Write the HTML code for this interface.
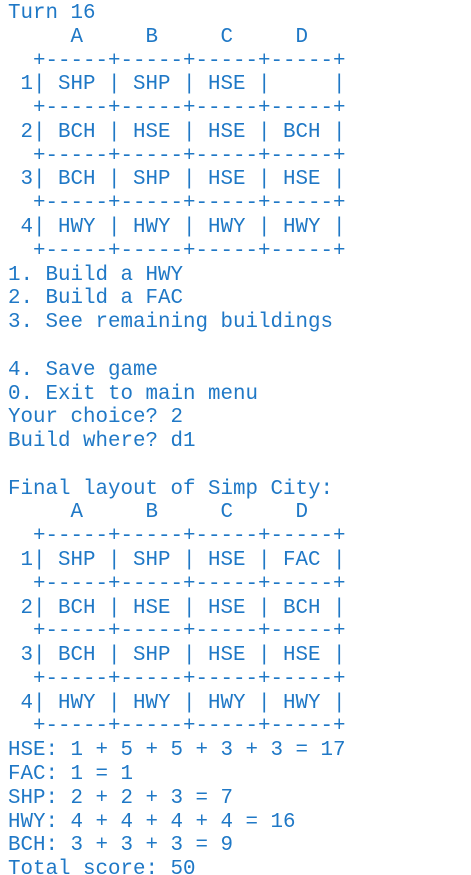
<!DOCTYPE html>
<html><head><meta charset="utf-8"><style>
html,body{margin:0;padding:0;background:#fff;width:471px;height:875px;overflow:hidden}
pre{margin:0;padding:0 0 0 8px;font-family:"Liberation Mono","Courier New",monospace;font-size:20.83px;line-height:23.78px;color:#1f78c6;position:relative;top:2px}
</style></head><body><pre>Turn 16
     A     B     C     D
  +-----+-----+-----+-----+
 1| SHP | SHP | HSE |     |
  +-----+-----+-----+-----+
 2| BCH | HSE | HSE | BCH |
  +-----+-----+-----+-----+
 3| BCH | SHP | HSE | HSE |
  +-----+-----+-----+-----+
 4| HWY | HWY | HWY | HWY |
  +-----+-----+-----+-----+
1. Build a HWY
2. Build a FAC
3. See remaining buildings

4. Save game
0. Exit to main menu
Your choice? 2
Build where? d1

Final layout of Simp City:
     A     B     C     D
  +-----+-----+-----+-----+
 1| SHP | SHP | HSE | FAC |
  +-----+-----+-----+-----+
 2| BCH | HSE | HSE | BCH |
  +-----+-----+-----+-----+
 3| BCH | SHP | HSE | HSE |
  +-----+-----+-----+-----+
 4| HWY | HWY | HWY | HWY |
  +-----+-----+-----+-----+
HSE: 1 + 5 + 5 + 3 + 3 = 17
FAC: 1 = 1
SHP: 2 + 2 + 3 = 7
HWY: 4 + 4 + 4 + 4 = 16
BCH: 3 + 3 + 3 = 9
Total score: 50</pre></body></html>
